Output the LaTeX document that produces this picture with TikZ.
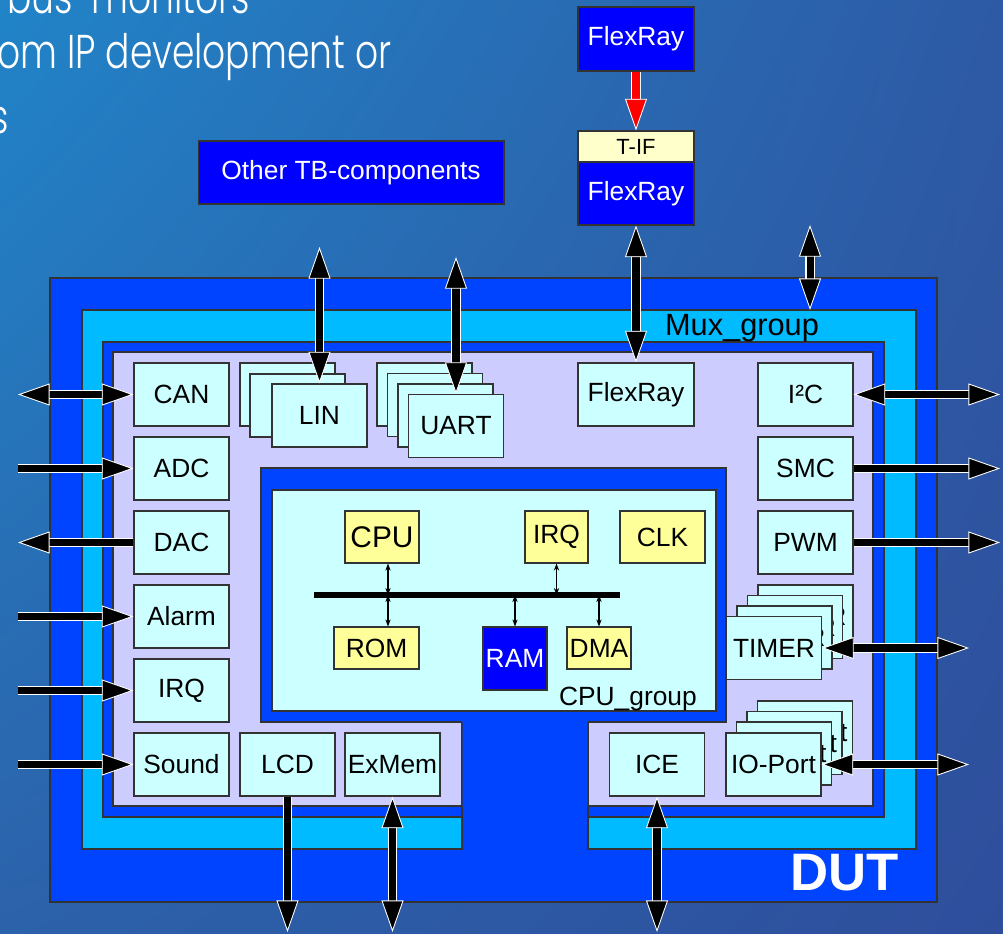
\documentclass[tikz,border=0pt]{standalone}
\usepackage{fontspec}
\usepackage{graphicx}
\setmainfont{Liberation Sans}
\IfFontExistsTF{Poppins Light}{\newfontfamily\slidefont{Poppins Light}}{\newfontfamily\slidefont{Poppins}}
\usetikzlibrary{arrows.meta,calc,shadings}
\definecolor{dutblue}{HTML}{0044FF}
\definecolor{muxcyan}{HTML}{00BBFF}
\definecolor{lilac}{HTML}{CCCCFF}
\definecolor{boxcyan}{HTML}{CCFFFF}
\definecolor{cpuyellow}{HTML}{FFFF99}
\definecolor{tifyellow}{HTML}{FFFFCC}
\definecolor{tbblue}{HTML}{0000FF}
\definecolor{rimgray}{HTML}{333333}
\definecolor{slideul}{RGB}{33,132,200}
\definecolor{slideur}{RGB}{46,90,165}
\definecolor{slidell}{RGB}{44,98,170}
\definecolor{slidelr}{RGB}{46,78,156}

\begin{document}
\begin{tikzpicture}[
      x=0.02cm,y=-0.02cm,
      font=\fontsize{15}{18}\selectfont,
      >={Triangle[length=18pt,width=12.5pt,fill=black,color=white,line width=0.5pt]},
      region/.style={draw=rimgray,line width=0.6pt},
      blk/.style={draw=rimgray,line width=0.6pt,fill=boxcyan,inner sep=0pt,
        minimum width=1.9cm,minimum height=1.26cm},
      cpubox/.style={draw=rimgray,line width=0.6pt,fill=cpuyellow,inner sep=0pt},
      tbbox/.style={draw=rimgray,line width=0.6pt,fill=tbblue,text=white,inner sep=0pt},
      slide/.style={font=\slidefont\fontsize{27}{30}\selectfont,text=white,inner sep=0pt},
      bigarr/.style={draw=black,line width=4pt,->,
        preaction={draw=white,line width=5.2pt,arrows=-,shorten >=12pt}},
      bigdarr/.style={draw=black,line width=4pt,<->,
        preaction={draw=white,line width=5.2pt,arrows=-,shorten >=12pt,shorten <=12pt}},
      redarr/.style={draw=red,line width=4pt,
        -{Triangle[length=18pt,width=12.5pt,fill=red,color=white,line width=0.5pt]},
        preaction={draw=white,line width=5.2pt,arrows=-,shorten >=12pt}},
      busarr/.style={{Stealth[length=4pt,width=3pt]}-{Stealth[length=4pt,width=3pt]},line width=0.6pt}
    ]
      \useasboundingbox (0,0) rectangle (1003,933);
      \clip (0,0) rectangle (1003,933);
      \shade[upper left=slideul,upper right=slideur,lower left=slidell,lower right=slidelr]
        (0,0) rectangle (1003,933);
      % slide text behind the diagram
      \node[slide,anchor=base west] (line1) at (7,13) {\scalebox{0.76}[1]{bus-monitors}};
      \node[slide,anchor=base west] (line2) at (-3,68) {\scalebox{0.76}[1]{om IP development or}};
      \node[slide,anchor=base east] (line3) at (9,133) {\scalebox{0.76}[1]{s}};

      % DUT / Mux_group / CPU_group areas
      \draw[region,fill=dutblue] (50,278) rectangle (937,902);
      \draw[region,fill=muxcyan] (82,310) -- (916,310) -- (916,849) -- (588,849) -- (588,722)
        -- (462,722) -- (462,849) -- (82,849) -- cycle;
      \draw[region,fill=dutblue] (103,342) -- (884,342) -- (884,817) -- (588,817) -- (588,722)
        -- (462,722) -- (462,817) -- (103,817) -- cycle;
      \draw[region,fill=lilac] (113,352) -- (873,352) -- (873,806) -- (588,806) -- (588,722)
        -- (462,722) -- (462,806) -- (113,806) -- cycle;
      \fill[dutblue] (261,468) rectangle (726,722) (462.6,720) rectangle (587.4,806);
      \draw[region] (462,722) -- (261,722) -- (261,468) -- (726,468) -- (726,722) -- (588,722);
      \draw[region,fill=boxcyan] (272,490) rectangle (716,711);
      \node[font=\fontsize{17.5}{20}\selectfont,anchor=base] (muxlabel) at (742,335) {Mux\_group};
      \node[anchor=base east] (cpulabel) at (703,705) {CPU\_group};
      \node[font=\bfseries\fontsize{30}{34}\selectfont,text=white,anchor=base] (dutlabel) at (845,890) {DUT};

      % testbench side
      \node[tbbox,minimum width=6.12cm,minimum height=1.26cm] (other) at (351,172.5) {Other TB-components};
      \node[tbbox,minimum width=2.32cm,minimum height=1.28cm] (flextop) at (636,39) {FlexRay};
      \node[draw=rimgray,line width=0.6pt,fill=tifyellow,inner sep=0pt,minimum width=2.32cm,
        minimum height=0.62cm,font=\fontsize{12.5}{14}\selectfont] (tif) at (636,146.5) {T-IF};
      \node[tbbox,minimum width=2.32cm,minimum height=1.26cm] (flexmid) at (636,193.5) {FlexRay};

      % peripherals
      \node[blk] (can) at (181.5,394.5) {CAN};
      \node[blk] (adc) at (181.5,468.5) {ADC};
      \node[blk] (dac) at (181.5,542.5) {DAC};
      \node[blk] (alarm) at (181.5,616.5) {Alarm};
      \node[blk] (irq) at (181.5,690.5) {IRQ};
      \node[blk] (sound) at (181.5,764.5) {Sound};
      \node[blk] (lcd) at (287.5,764.5) {LCD};
      \node[blk] (exmem) at (392.5,764.5) {ExMem};
      \node[blk] (lin1) at (287.5,394.5) {};
      \node[blk] (lin2) at (297.5,405.5) {};
      \node[blk] (lin) at (319.5,415.5) {LIN};
      \foreach \i in {0,1,2}
        \node[blk] (uart\i) at (424.5+10.5*\i,394.5+10.5*\i) {};
      \node[blk] (uart) at (456,426) {UART};
      \node[blk,minimum width=2.32cm] (flexin) at (636,394.5) {FlexRay};
      \node[blk] (iic) at (805.5,394.5) {I²C};
      \node[blk] (smc) at (805.5,468.5) {SMC};
      \node[blk] (pwm) at (805.5,542.5) {PWM};
      \foreach \i in {0,1,2}
        \node[blk] (timer\i) at (805.5-10.5*\i,616.5+10.5*\i) {TIMER};
      \node[blk] (timer) at (774,648) {TIMER};
      \foreach \i in {0,1,2}
        \node[blk] (port\i) at (805-10.5*\i,732.5+10.5*\i) {IO-Port};
      \node[blk] (port) at (773.5,764.5) {IO-Port};
      \node[blk] (ice) at (657,764.5) {ICE};

      % CPU_group content
      \node[cpubox,minimum width=1.48cm,minimum height=1.04cm,font=\fontsize{17}{20}\selectfont] (cpu) at (382,537) {CPU};
      \node[cpubox,minimum width=1.26cm,minimum height=1.04cm] (irqc) at (556.5,537) {IRQ};
      \node[cpubox,minimum width=1.7cm,minimum height=1.04cm] (clk) at (662.5,537) {CLK};
      \node[cpubox,minimum width=1.7cm,minimum height=0.84cm] (rom) at (376.5,648) {ROM};
      \node[tbbox,minimum width=1.28cm,minimum height=1.26cm] (ram) at (515,658.5) {RAM};
      \node[cpubox,minimum width=1.28cm,minimum height=0.84cm] (dma) at (599,648) {DMA};
      \coordinate (busw) at (314,595);
      \coordinate (buse) at (620,595);
      \draw[busarr] ($(cpu.south)+(6,0)$) -- ($(cpu.south |- busw)+(6,0)$);
      \draw[busarr] ($(rom.north)+(11.5,0)$) -- ($(rom.north |- busw)+(11.5,0)$);
      \draw[busarr] (irqc.south) -- (irqc.south |- busw);
      \draw[busarr] (ram.north) -- (ram.north |- busw);
      \draw[busarr] (dma.north) -- (dma.north |- busw);
      \draw[line width=2.9pt] (busw) -- (buse);

      % ports of the DUT
      \coordinate (linout) at (319.5,247);
      \coordinate (uartout) at (456,257);
      \coordinate (muxout) at (810,225);
      \coordinate (muxtop) at (810,310);
      \coordinate (canout) at (18,394.5);
      \coordinate (adcin) at (18,468.5);
      \coordinate (dacout) at (18,542.5);
      \coordinate (alarmin) at (18,616.5);
      \coordinate (irqin) at (18,690.5);
      \coordinate (soundin) at (18,764.5);
      \coordinate (lcdout) at (287.5,932);
      \coordinate (exmemout) at (392.5,932);
      \coordinate (iceout) at (657,932);
      \coordinate (iicout) at (1000,394.5);
      \coordinate (smcout) at (1000,468.5);
      \coordinate (pwmout) at (1000,542.5);
      \coordinate (timerout) at (969,648);
      \coordinate (portout) at (969,764.5);
      \draw[redarr] (flextop) -- (tif);
      \draw[bigdarr] (flexmid) -- (flexin);
      \draw[bigdarr] (linout) -- (lin);
      \draw[bigdarr] (uartout) -- (uart);
      \draw[bigdarr] (muxout) -- (muxtop);
      \draw[bigdarr] (canout) -- (can);
      \draw[bigarr] (adcin) -- (adc);
      \draw[bigarr] (dac) -- (dacout);
      \draw[bigarr] (alarmin) -- (alarm);
      \draw[bigarr] (irqin) -- (irq);
      \draw[bigarr] (soundin) -- (sound);
      \draw[bigarr] (lcd) -- (lcdout);
      \draw[bigdarr] (exmem) -- (exmemout);
      \draw[bigdarr] (ice) -- (iceout);
      \draw[bigdarr] (iic) -- (iicout);
      \draw[bigarr] (smc) -- (smcout);
      \draw[bigarr] (pwm) -- (pwmout);
      \draw[bigdarr] (timer) -- (timerout);
      \draw[bigdarr] (port) -- (portout);
    \end{tikzpicture}
\end{document}
